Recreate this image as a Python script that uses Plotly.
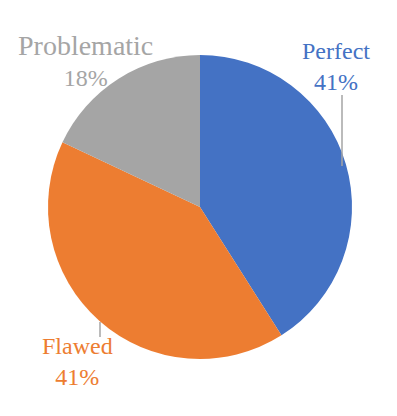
import plotly.graph_objects as go

labels = ["Perfect", "Flawed", "Problematic"]
values = [41, 41, 18]
colors = ["#4472C4", "#ED7D31", "#A5A5A5"]

W, H = 397, 416
OFF = 8  # default page body margin


def px(x):
    return (x - OFF) / W


def py(y):
    return 1 - (y - OFF) / H


FONT = "Liberation Serif"

fig = go.Figure(go.Pie(
    labels=labels, values=values, sort=False, direction="clockwise", rotation=0,
    marker=dict(colors=colors, line=dict(width=0)),
    textinfo="none", showlegend=False,
    domain=dict(x=[px(48), px(352)], y=[py(359), py(55)]),
))

total = sum(values)
# (center x, anchor y) in pixels; top-anchored above the pie, bottom-anchored below it
label_pos = {"Perfect": (336, 36), "Flawed": (77, 392), "Problematic": (85, 28)}
name_size = {"Perfect": 24, "Flawed": 24, "Problematic": 28}
for lab, val, col in zip(labels, values, colors):
    x, y = label_pos[lab]
    name = lab if name_size[lab] == 24 else f"<span style='font-size:{name_size[lab]}px'>{lab}</span>"
    fig.add_annotation(
        x=px(x), y=py(y), xref="paper", yref="paper",
        text=f"{name}<br>{round(val / total * 100)}%", showarrow=False,
        font=dict(family=FONT, size=24, color=col), xanchor="center",
    )

lines = [((342, 95), (342, 166)), ((100, 322), (100, 337))]
for (x0, y0), (x1, y1) in lines:
    fig.add_shape(type="line", xref="paper", yref="paper",
                  x0=px(x0), y0=py(y0), x1=px(x1), y1=py(y1),
                  line=dict(color="#A5A5A5", width=1.5))

fig.update_layout(
    width=W, height=H, margin=dict(l=0, r=0, t=0, b=0),
    paper_bgcolor="white", plot_bgcolor="white",
)
fig.write_html("out.html")
